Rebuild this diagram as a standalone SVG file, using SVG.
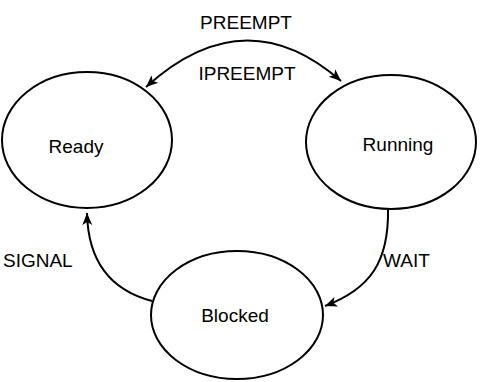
<svg xmlns="http://www.w3.org/2000/svg" width="480" height="382" viewBox="0 0 480 382">
<style>
.node{fill:#fff;stroke:#000;stroke-width:2}
.lbl{font-family:"Liberation Sans",Arial,sans-serif;font-size:19px;fill:#000}
.edge{fill:none;stroke:#000;stroke-width:2}
</style>
<defs>
<marker id="arr" markerUnits="userSpaceOnUse" markerWidth="14" markerHeight="12" refX="12" refY="5" orient="auto-start-reverse" viewBox="0 0 14 10">
<path d="M0,0 L12,5 L0,10 L3,5 z" fill="#000"/>
</marker>
</defs>
<rect width="480" height="382" fill="#fff"/>
<g id="connectors">
<path class="edge" d="M146,87 Q245,-3 341,81" marker-start="url(#arr)" marker-end="url(#arr)"/>
<path class="edge" d="M388,209 C389,262 370,289 325,306" marker-end="url(#arr)"/>
<path class="edge" d="M152,301 C110,290 88,260 87,213" marker-end="url(#arr)"/>
</g>
<g id="ready">
<ellipse class="node" cx="87" cy="140" rx="85" ry="68"/>
<text class="lbl" x="76" y="153" text-anchor="middle">Ready</text>
</g>
<g id="running">
<ellipse class="node" cx="391" cy="142" rx="85" ry="67"/>
<text class="lbl" x="398" y="151" text-anchor="middle">Running</text>
</g>
<g id="blocked">
<ellipse class="node" cx="237" cy="315" rx="86" ry="64"/>
<text class="lbl" x="235" y="322" text-anchor="middle">Blocked</text>
</g>
<g id="labels">
<text class="lbl" x="246" y="29" text-anchor="middle">PREEMPT</text>
<text class="lbl" x="247" y="80" text-anchor="middle">IPREEMPT</text>
<text class="lbl" x="383" y="267">WAIT</text>
<text class="lbl" x="3" y="267">SIGNAL</text>
</g>
</svg>
